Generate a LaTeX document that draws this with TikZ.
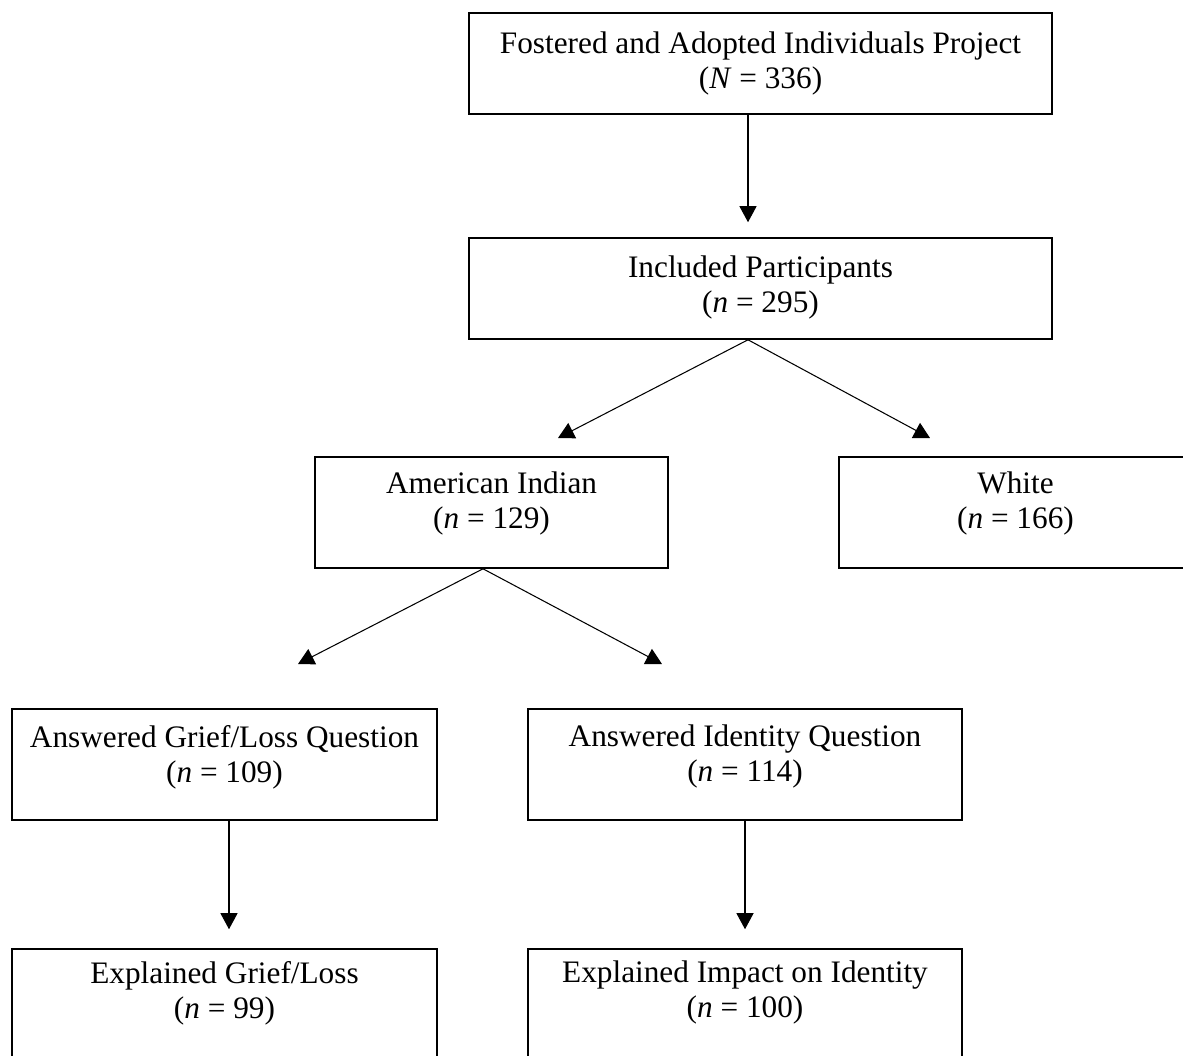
\documentclass[tikz,border=0pt]{standalone}
\usepackage{fontspec}
\setmainfont{Liberation Serif}
\usetikzlibrary{arrows.meta,positioning}

\begin{document}
\begin{tikzpicture}[x=0.02cm,y=-0.02cm,
  box/.style={draw,line width=.9pt,align=center,inner sep=0pt,font=\fontsize{17.8}{19.9}\selectfont},
  lift/.style={text depth=#1},
  arr/.style={line width=.6pt,-{Triangle[length=.32cm,width=.34cm]}}]

        \useasboundingbox (0,0) rectangle (1183,1055);

        \node[box,minimum width=11.66cm,minimum height=2.02cm] (fap) at (760.5,63.5) {Fostered and Adopted Individuals Project\\(\textit{N} = 336)};
        \node[box,lift=.16cm,minimum width=11.66cm,minimum height=2.02cm] (inc) at (760.5,288.5) {Included Participants\\(\textit{n} = 295)};
        \node[box,lift=.48cm,minimum width=7.06cm,minimum height=2.22cm] (ai) at (491.5,512.5) {American Indian\\(\textit{n} = 129)};
        \node[box,lift=.48cm,minimum width=7.06cm,minimum height=2.22cm] (wh) at (1015.5,512.5) {White\\(\textit{n} = 166)};
        \node[box,lift=.44cm,minimum width=8.5cm,minimum height=2.22cm] (agl) at (224.5,764.5) {Answered Grief/Loss Question\\(\textit{n} = 109)};
        \node[box,lift=.44cm,minimum width=8.68cm,minimum height=2.22cm] (aid) at (745,764.5) {Answered Identity Question\\(\textit{n} = 114)};
        \node[box,lift=.6cm,minimum width=8.5cm,minimum height=2.22cm] (egl) at (224.5,1004.5) {Explained Grief/Loss\\(\textit{n} = 99)};
        \node[box,lift=.6cm,minimum width=8.68cm,minimum height=2.22cm] (eid) at (745,1004.5) {Explained Impact on Identity\\(\textit{n} = 100)};

        \coordinate (aitip) at (558,438);
        \coordinate (whtip) at (930,438);
        \coordinate (agltip) at (298,664);
        \coordinate (aidtip) at (662,664);

        \draw[arr] ([xshift=-.25cm]fap.south) -- ([xshift=-.25cm,yshift=.3cm]inc.north);
        \draw[arr] ([xshift=-.25cm]inc.south) -- (aitip);
        \draw[arr] ([xshift=-.25cm]inc.south) -- (whtip);
        \draw[arr] ([xshift=-.17cm]ai.south) -- (agltip);
        \draw[arr] ([xshift=-.17cm]ai.south) -- (aidtip);
        \draw[arr] ([xshift=.09cm]agl.south) -- ([xshift=.09cm,yshift=.38cm]egl.north);
        \draw[arr] (aid.south) -- ([yshift=.38cm]eid.north);

      \end{tikzpicture}
\end{document}
